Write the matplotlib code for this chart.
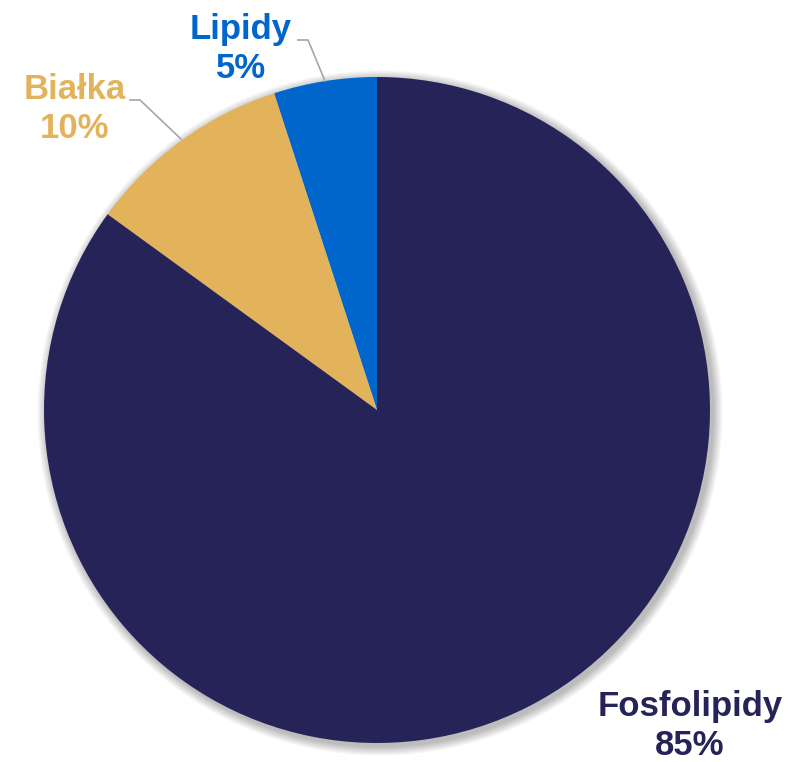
import matplotlib
matplotlib.use("Agg")
import matplotlib.pyplot as plt
from matplotlib.patches import Circle

labels = ["Lipidy", "Białka", "Fosfolipidy"]
shares = [5, 10, 85]
colors = ["#0066CC", "#E3B35C", "#262359"]

W, H = 789, 762
cx, cy, r = 377, H - 410, 333

plt.rcParams["font.family"] = ["Liberation Sans", "DejaVu Sans"]

fig = plt.figure(figsize=(W / 100, H / 100), dpi=100)
ax = fig.add_axes([0, 0, 1, 1])

# soft drop shadow behind the pie
for k in range(14, 0, -1):
    ax.add_patch(Circle((cx + 3, cy - 3), r + k * 0.7, color="black",
                        alpha=0.02, lw=0, zorder=0))

wedges, _ = ax.pie(shares, colors=colors, startangle=90, counterclock=True,
                   center=(cx, cy), radius=r, frame=True,
                   wedgeprops=dict(linewidth=0))
for w in wedges:
    w.set_zorder(2)
ax.set_xlim(0, W)
ax.set_ylim(0, H)
ax.set_aspect("equal")
ax.axis("off")

# label placement: text anchor, leader-line path (or None)
label_pos = [
    ((241, H - 49), [(298, H - 40), (308, H - 40), (325, H - 81)]),
    ((75, H - 109), [(130, H - 100), (140, H - 100), (181, H - 139)]),
    ((690, H - 726), None),
]

for lab, val, col, (pos, path) in zip(labels, shares, colors, label_pos):
    ax.text(pos[0], pos[1], f"{lab}\n{val}%", color=col, fontsize=25,
            fontweight="bold", ha="center", va="center", linespacing=1.25,
            zorder=5)
    if path:
        xs, ys = zip(*path)
        ax.plot(xs, ys, color="#A6A6A6", lw=1.2, zorder=4)

fig.savefig("out.png", dpi=100)
